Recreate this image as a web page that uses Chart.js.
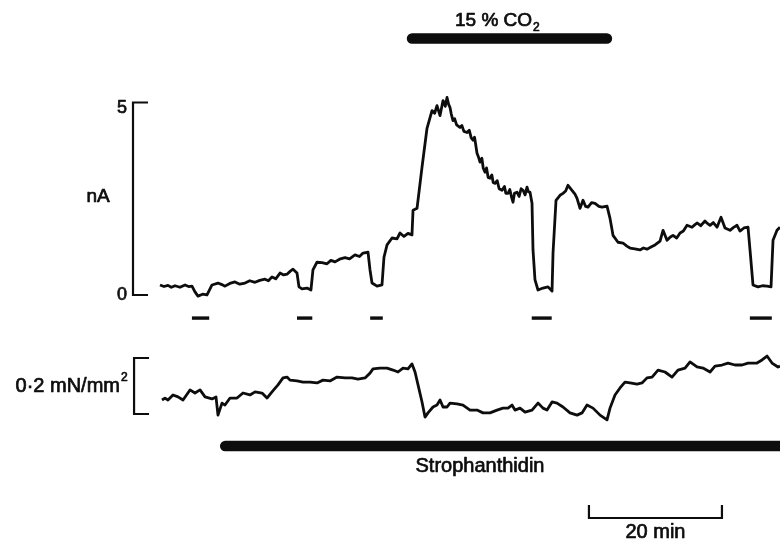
<!DOCTYPE html>
<html>
<head>
<meta charset="utf-8">
<script src="https://cdn.jsdelivr.net/npm/chart.js@4/dist/chart.umd.min.js"></script>
<style>
html,body{margin:0;padding:0;background:#fff;}
#wrap{width:780px;height:539px;position:relative;}
</style>
</head>
<body>
<div id="wrap"><canvas id="c" width="780" height="539"></canvas></div>
<script>
// ---- Data (time in min, current in nA, tension in mN/mm^2 above an arbitrary baseline) ----
const currentTime = [0,0.6,1.2,1.7,2.26,3.0,3.76,4.3,4.81,5.26,5.71,6.4,7.07,7.82,8.72,9.3,9.77,10.5,11.28,12.0,12.78,13.5,14.29,15.0,15.79,16.3,16.84,17.4,18.05,18.6,19.1,19.6,20.0,20.6,20.9,21.35,22.1,22.7,23.0,23.6,24.36,25.11,25.7,26.32,27.0,27.82,28.5,29.32,30.0,30.53,31.28,31.58,31.88,32.63,33.38,33.68,34.14,34.89,35.64,36.09,36.69,37.29,37.89,38.05,38.65,39.4,40.15,40.9,41.3,41.65,42.11,42.56,42.9,43.16,43.4,43.61,43.8,44.06,44.3,44.6,45.11,45.4,45.7,46.17,46.5,46.8,47.07,47.3,47.67,47.9,48.12,48.4,48.6,48.87,49.1,49.35,49.62,49.9,50.1,50.38,50.7,51.0,51.43,51.8,52.0,52.33,52.6,52.85,53.08,53.3,53.68,54.0,54.3,54.59,54.9,55.19,55.4,55.64,55.94,56.09,56.39,56.84,57.59,58.35,58.95,59.1,59.55,60.15,60.6,61.0,61.35,61.95,62.4,62.71,63.16,63.61,64.0,64.36,64.9,65.41,66.0,66.47,67.22,67.67,68.12,68.87,69.62,70.2,70.68,71.4,72.18,72.7,73.23,73.9,74.44,75.19,75.64,76.24,76.7,77.14,77.7,78.2,78.7,79.25,80.0,80.4,80.75,81.3,81.95,82.3,82.71,83.2,83.76,84.36,84.96,85.71,86.2,86.77,87.22,87.8,88.42,88.72,89.17,89.92,90.6,91.28,91.88,92.18,92.78,93.23];
const currentNA   = [0.26,0.22,0.25,0.2,0.24,0.2,0.26,0.22,0.23,0.08,-0.03,0.02,0.0,0.26,0.31,0.27,0.23,0.3,0.34,0.28,0.31,0.37,0.33,0.38,0.41,0.37,0.47,0.42,0.57,0.52,0.54,0.62,0.67,0.57,0.21,0.16,0.18,0.13,0.65,0.85,0.84,0.81,0.9,0.86,0.93,0.97,0.94,1.04,1.0,1.09,1.11,0.65,0.31,0.23,0.26,0.98,1.3,1.48,1.46,1.61,1.52,1.6,1.56,2.2,2.25,3.32,4.33,4.79,4.72,4.92,4.66,5.05,4.9,5.13,4.95,4.87,4.7,4.53,4.58,4.42,4.35,4.4,4.25,4.22,4.28,4.08,4.02,4.1,3.68,3.58,3.45,3.55,3.3,3.19,3.3,3.05,3.03,3.12,2.92,2.9,2.97,2.76,2.72,2.82,2.64,2.64,2.74,2.55,2.41,2.64,2.67,2.56,2.76,2.72,2.6,2.8,2.68,2.67,2.38,1.17,0.39,0.13,0.18,0.21,0.1,1.09,2.46,2.59,2.64,2.7,2.85,2.72,2.62,2.51,2.25,2.46,2.3,2.28,2.4,2.38,2.3,2.28,2.31,1.99,1.55,1.37,1.35,1.27,1.22,1.2,1.17,1.22,1.19,1.25,1.3,1.4,1.68,1.42,1.5,1.55,1.48,1.61,1.66,1.81,1.76,1.82,1.87,1.8,1.92,1.86,1.81,1.88,1.76,2.02,1.74,1.68,1.75,1.81,1.66,1.74,1.76,1.17,0.26,0.21,0.24,0.23,0.21,1.42,1.68,1.76];

const tensionTime = [0.3,0.75,1.2,1.95,2.71,3.46,4.51,5.26,6.02,6.77,7.82,8.42,8.72,9.32,9.77,10.53,11.58,12.48,13.53,14.29,15.34,16.09,16.84,17.74,18.5,19.1,19.55,20.6,21.5,22.56,23.61,24.51,25.56,26.62,27.82,28.87,29.77,30.83,31.58,32.03,33.08,34.14,35.04,35.79,36.54,37.29,37.89,38.35,38.8,39.4,39.85,40.3,41.05,41.65,42.11,42.56,43.16,43.61,44.66,45.56,46.62,47.67,48.57,49.62,50.68,51.58,52.33,52.93,53.38,54.14,54.89,55.94,56.84,57.59,58.2,58.95,59.7,60.6,61.65,62.71,63.46,64.21,65.11,66.17,67.22,67.67,68.42,69.17,69.92,70.68,71.73,72.48,73.23,73.99,74.89,75.94,76.99,77.89,78.95,79.7,80.75,81.65,82.71,83.46,84.51,85.41,86.47,87.52,88.42,89.77,90.53,91.28,92.03,92.93,93.23];
const tensionVal  = [0.05,0.057,0.05,0.068,0.061,0.05,0.086,0.075,0.086,0.061,0.054,0.061,-0.004,0.039,0.032,0.057,0.057,0.075,0.068,0.079,0.075,0.057,0.079,0.104,0.129,0.132,0.121,0.118,0.114,0.114,0.111,0.121,0.118,0.132,0.129,0.129,0.125,0.129,0.146,0.161,0.164,0.164,0.157,0.15,0.164,0.161,0.179,0.15,0.104,0.043,-0.011,0.004,0.025,0.032,0.05,0.025,0.025,0.039,0.036,0.032,0.014,0.014,0.004,0.004,0.014,0.021,0.021,0.032,0.014,0.021,0.007,0.014,0.039,0.021,0.014,0.043,0.039,0.025,0.004,-0.004,0.004,0.032,0.021,-0.004,-0.021,0.021,0.068,0.093,0.114,0.111,0.107,0.111,0.129,0.132,0.157,0.15,0.132,0.157,0.164,0.186,0.168,0.164,0.15,0.171,0.175,0.182,0.175,0.175,0.182,0.182,0.193,0.207,0.182,0.168,0.171];

const co2Period   = [37.9, 67.2];
const strophPeriod = [9.8, 96];
const testPulses  = [[4.8,7.4],[20.6,22.9],[31.6,33.5],[55.9,58.9],[88.7,92.0]];
const currentScale = [0, 5];       // nA calibration
const tensionScale = [0, 0.2];     // mN/mm2 calibration
const timeScale    = [64.5, 84.5]; // 20 min

// levels used to place the protocol bars (in nA-axis units)
const co2Level = 6.66;
const stophLevel = -3.925;
const pulseLevel = -0.6;

const INK = '#0d0d0d';

function xy(xs, ys){ return xs.map((x,i)=>({x:x, y:ys[i]})); }

const datasets = [
  {data: xy(currentTime,currentNA), yAxisID:'y', borderColor:INK, borderWidth:2.8, pointRadius:0, tension:0, borderJoinStyle:'round'},
  {data: xy(tensionTime,tensionVal), yAxisID:'yT', borderColor:INK, borderWidth:2.8, pointRadius:0, tension:0, borderJoinStyle:'round'},
  {data: [{x:co2Period[0],y:co2Level},{x:co2Period[1],y:co2Level}], yAxisID:'y', borderColor:INK, borderWidth:10.5, pointRadius:0, borderCapStyle:'round'},
  {data: [{x:strophPeriod[0],y:stophLevel},{x:strophPeriod[1],y:stophLevel}], yAxisID:'y', borderColor:INK, borderWidth:10.5, pointRadius:0, borderCapStyle:'round'}
];
testPulses.forEach(p=>{
  datasets.push({data:[{x:p[0],y:pulseLevel},{x:p[1],y:pulseLevel}], yAxisID:'y', borderColor:INK, borderWidth:3.4, pointRadius:0});
});

function txt(ctx, s, px, py){ ctx.strokeText(s, px, py); ctx.fillText(s, px, py); }

const annot = {
  id:'annot',
  afterDatasetsDraw(chart){
    const ctx = chart.ctx, x = chart.scales.x, y = chart.scales.y, yT = chart.scales.yT;
    ctx.save();
    ctx.strokeStyle = INK; ctx.fillStyle = INK; ctx.lineWidth = 2.2; ctx.lineCap='butt';
    // nA calibration bracket
    const bx = x.getPixelForValue(-4.06), tx = x.getPixelForValue(-1.8);
    const y0 = y.getPixelForValue(currentScale[0]), y5 = y.getPixelForValue(currentScale[1]);
    ctx.beginPath(); ctx.moveTo(tx,y5); ctx.lineTo(bx,y5); ctx.lineTo(bx,y0); ctx.lineTo(tx,y0); ctx.stroke();
    // tension bracket
    const bx2 = x.getPixelForValue(-3.9), tx2 = x.getPixelForValue(-1.65);
    const t0 = yT.getPixelForValue(tensionScale[0]), t1 = yT.getPixelForValue(tensionScale[1]);
    ctx.beginPath(); ctx.moveTo(tx2,t1); ctx.lineTo(bx2,t1); ctx.lineTo(bx2,t0); ctx.lineTo(tx2,t0); ctx.stroke();
    // time bar
    const s0 = x.getPixelForValue(timeScale[0]), s1 = x.getPixelForValue(timeScale[1]);
    const sy = 518;
    ctx.beginPath(); ctx.moveTo(s0,sy-13); ctx.lineTo(s0,sy); ctx.lineTo(s1,sy); ctx.lineTo(s1,sy-13); ctx.stroke();

    // texts (thin stroke to mimic the heavier print face)
    const F = '"Liberation Sans", Arial, sans-serif';
    ctx.lineWidth = 0.7; ctx.lineJoin = 'round';
    ctx.textBaseline = 'middle';
    ctx.textAlign = 'center';
    ctx.font = '18px ' + F;
    txt(ctx, String(currentScale[1]), bx-11, y5+6);
    txt(ctx, String(currentScale[0]), bx-11, y0);
    ctx.font = '19px ' + F;
    txt(ctx, 'nA', 98, 197);
    ctx.textAlign = 'right';
    ctx.font = '20px ' + F;
    txt(ctx, '0·2 mN/mm', 120, 386);
    ctx.font = '12px ' + F;
    ctx.textAlign='left';
    txt(ctx, '2', 121, 378);
    // CO2 label
    ctx.font = '19px ' + F;
    const a = '15 % CO';
    const w = ctx.measureText(a).width;
    const lx = 455;
    txt(ctx, a, lx, 21);
    ctx.font = '12px ' + F;
    txt(ctx, '2', lx + w + 1, 28);
    // Strophanthidin & time bar label
    ctx.font = '20px ' + F;
    ctx.textAlign = 'center';
    txt(ctx, 'Strophanthidin', 480, 466);
    txt(ctx, '20 min', (s0+s1)/2, 532);
    ctx.restore();
  }
};

new Chart(document.getElementById('c'), {
  type:'line',
  data:{datasets},
  options:{
    responsive:false, animation:false,
    layout:{padding:0},
    plugins:{legend:{display:false}, tooltip:{enabled:false}},
    scales:{
      x:{type:'linear', display:false, min:-24.06, max:93.23},
      y:{type:'linear', display:false, min:-6.338, max:7.662},
      yT:{type:'linear', display:false, min:-0.4464, max:1.4786}
    }
  },
  plugins:[annot]
});
</script>
</body>
</html>
